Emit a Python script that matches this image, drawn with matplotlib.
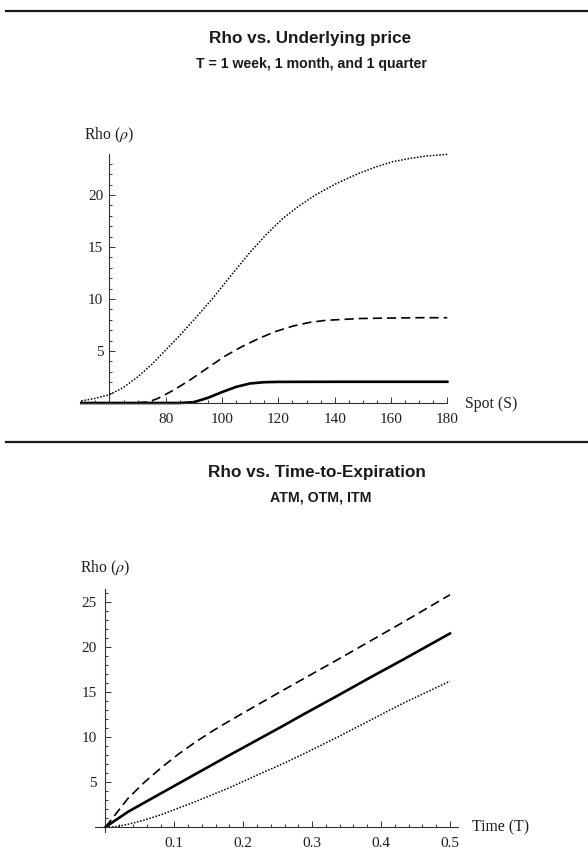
import matplotlib
matplotlib.use('Agg')
import matplotlib.pyplot as plt
from matplotlib.lines import Line2D
from matplotlib.ticker import MultipleLocator, FixedLocator

plt.rcParams['mathtext.fontset'] = 'stix'

# Rho vs spot, three maturities
quarter_s = [50, 55, 60, 65, 70, 75, 80, 85, 90, 96.8, 103.9, 109.8, 115.7, 121.6,
             127.6, 133.5, 140.6, 148.8, 154.7, 160.6, 166.5, 172.5, 180]
quarter_rho = [0.2, 0.45, 0.8, 1.5, 2.5, 3.7, 5.1, 6.5, 8.0, 10.1, 12.5, 14.45, 16.2, 17.75,
               19.0, 20.05, 21.1, 22.1, 22.7, 23.2, 23.5, 23.75, 23.9]
month_s = [50, 60, 70, 73.8, 77.3, 83.2, 89.1, 95, 101, 106.9, 113.4, 119.3, 125.2,
           131.1, 137, 148.8, 160, 170, 180]
month_rho = [0, 0, 0.02, 0.1, 0.45, 1.3, 2.3, 3.4, 4.5, 5.4, 6.25, 6.9, 7.4,
             7.75, 7.95, 8.12, 8.17, 8.2, 8.2]
week_s = [50, 85, 90, 95, 100, 105, 110, 115, 120, 140, 180]
week_rho = [0, 0, 0.08, 0.5, 1.05, 1.55, 1.88, 2.0, 2.03, 2.04, 2.04]

# Rho vs time to expiration: ITM (dashed), ATM (solid), OTM (dotted)
itm_t = [0, 0.014, 0.033, 0.057, 0.082, 0.106, 0.130, 0.154, 0.178, 0.203, 0.227,
         0.258, 0.287, 0.336, 0.384, 0.432, 0.481, 0.5]
itm_rho = [0, 1.35, 3.2, 5.0, 6.65, 8.1, 9.4, 10.6, 11.7, 12.8, 13.85,
           15.2, 16.45, 18.55, 20.65, 22.75, 24.95, 25.8]
atm_t = [0, 0.033, 0.082, 0.130, 0.178, 0.227, 0.258, 0.287, 0.336, 0.384, 0.432, 0.5]
atm_rho = [0, 1.7, 3.8, 5.85, 7.9, 9.95, 11.25, 12.5, 14.55, 16.6, 18.6, 21.5]
otm_t = [0, 0.014, 0.033, 0.057, 0.082, 0.130, 0.178, 0.227, 0.258, 0.287, 0.336,
         0.384, 0.432, 0.5]
otm_rho = [0, 0.02, 0.3, 0.78, 1.4, 2.8, 4.3, 6.0, 7.05, 8.1, 9.95, 11.85, 13.75, 16.2]

W, H = 588, 863
fig = plt.figure(figsize=(W / 100, H / 100), dpi=100)

axis_col = '#3a3030'
text_col = '#1e1e28'
serif = 'Liberation Serif'
sans = 'Liberation Sans'


def style_axes(ax, xorig, yorig, pad_x, pad_y):
    for s in ['top', 'right']:
        ax.spines[s].set_visible(False)
    ax.spines['left'].set_position(('data', xorig))
    ax.spines['bottom'].set_position(('data', yorig))
    for s in ['left', 'bottom']:
        ax.spines[s].set_color(axis_col)
        ax.spines[s].set_linewidth(0.8)
    ax.tick_params(which='both', direction='in', color=axis_col, width=0.7)
    ax.tick_params(which='major', length=4)
    ax.tick_params(which='minor', length=2)
    ax.tick_params(axis='x', pad=pad_x, labelsize=11, labelcolor=text_col)
    ax.tick_params(axis='y', pad=pad_y, labelsize=11, labelcolor=text_col)
    for lab in ax.get_xticklabels() + ax.get_yticklabels():
        lab.set_fontfamily(serif)
    ax.patch.set_visible(False)


# top chart
ax1 = fig.add_axes([81.3 / W, 1 - 403 / H, 366 / W, 248.6 / H])
ax1.plot(quarter_s, quarter_rho, color='black', lw=1.1, ls=(0, (1, 1.1)), clip_on=False)
ax1.plot(month_s, month_rho, color='black', lw=1.2, ls=(0, (5.5, 3)), clip_on=False)
ax1.plot(week_s, week_rho, color='black', lw=1.9, clip_on=False)
ax1.set_xlim(50, 180)
ax1.set_ylim(0, 23.9)
ax1.xaxis.set_major_locator(FixedLocator([80, 100, 120, 140, 160, 180]))
ax1.xaxis.set_minor_locator(MultipleLocator(5))
ax1.yaxis.set_major_locator(FixedLocator([5, 10, 15, 20]))
ax1.yaxis.set_minor_locator(MultipleLocator(1))
style_axes(ax1, 60, 0, 7, 4.5)

# bottom chart
ax2 = fig.add_axes([95.1 / W, 1 - 832.4 / H, 363.1 / W, 243 / H])
ax2.plot(itm_t, itm_rho, color='black', lw=1.2, ls=(0, (5.5, 3)), clip_on=False)
ax2.plot(atm_t, atm_rho, color='black', lw=1.9, clip_on=False)
ax2.plot(otm_t, otm_rho, color='black', lw=1.1, ls=(0, (1, 1.1)), clip_on=False)
ax2.set_xlim(-0.015, 0.512)
ax2.set_ylim(-0.6, 26.4)
ax2.xaxis.set_major_locator(FixedLocator([0.1, 0.2, 0.3, 0.4, 0.5]))
ax2.xaxis.set_minor_locator(FixedLocator([i * 0.02 for i in range(26)]))
ax2.yaxis.set_major_locator(FixedLocator([5, 10, 15, 20, 25]))
ax2.yaxis.set_minor_locator(FixedLocator(list(range(0, 27))))
style_axes(ax2, 0, 0, 7.5, 6)

# axis labels
fig.text(109.5 / W, 1 - 135 / H, r'Rho ($\rho$)', fontsize=11.3, family=serif,
         color=text_col, ha='center', va='center')
fig.text(465 / W, 1 - 404 / H, 'Spot (S)', fontsize=11.3, family=serif,
         color=text_col, ha='left', va='center')
fig.text(105 / W, 1 - 568 / H, r'Rho ($\rho$)', fontsize=11.3, family=serif,
         color=text_col, ha='center', va='center')
fig.text(472 / W, 1 - 827 / H, 'Time (T)', fontsize=11.3, family=serif,
         color=text_col, ha='left', va='center')

# titles
fig.text(310.5 / W, 1 - 39 / H, 'Rho vs. Underlying price', fontsize=12.3,
         family=sans, weight='bold', color='#1a1a1a', ha='center', va='center')
fig.text(311 / W, 1 - 64 / H, 'T = 1 week, 1 month, and 1 quarter', fontsize=10.2,
         family=sans, weight='bold', color='#1a1a1a', ha='center', va='center')
fig.text(317 / W, 1 - 472 / H, 'Rho vs. Time-to-Expiration', fontsize=12.3,
         family=sans, weight='bold', color='#1a1a1a', ha='center', va='center')
fig.text(320.5 / W, 1 - 498 / H, 'ATM, OTM, ITM', fontsize=10.2,
         family=sans, weight='bold', color='#1a1a1a', ha='center', va='center')

# separator rules
for yy in [11, 442]:
    fig.add_artist(Line2D([6 / W, 1], [1 - yy / H, 1 - yy / H], transform=fig.transFigure,
                          color='#1a1a1a', lw=1.6))

fig.savefig('out.png', dpi=100, facecolor='white')
